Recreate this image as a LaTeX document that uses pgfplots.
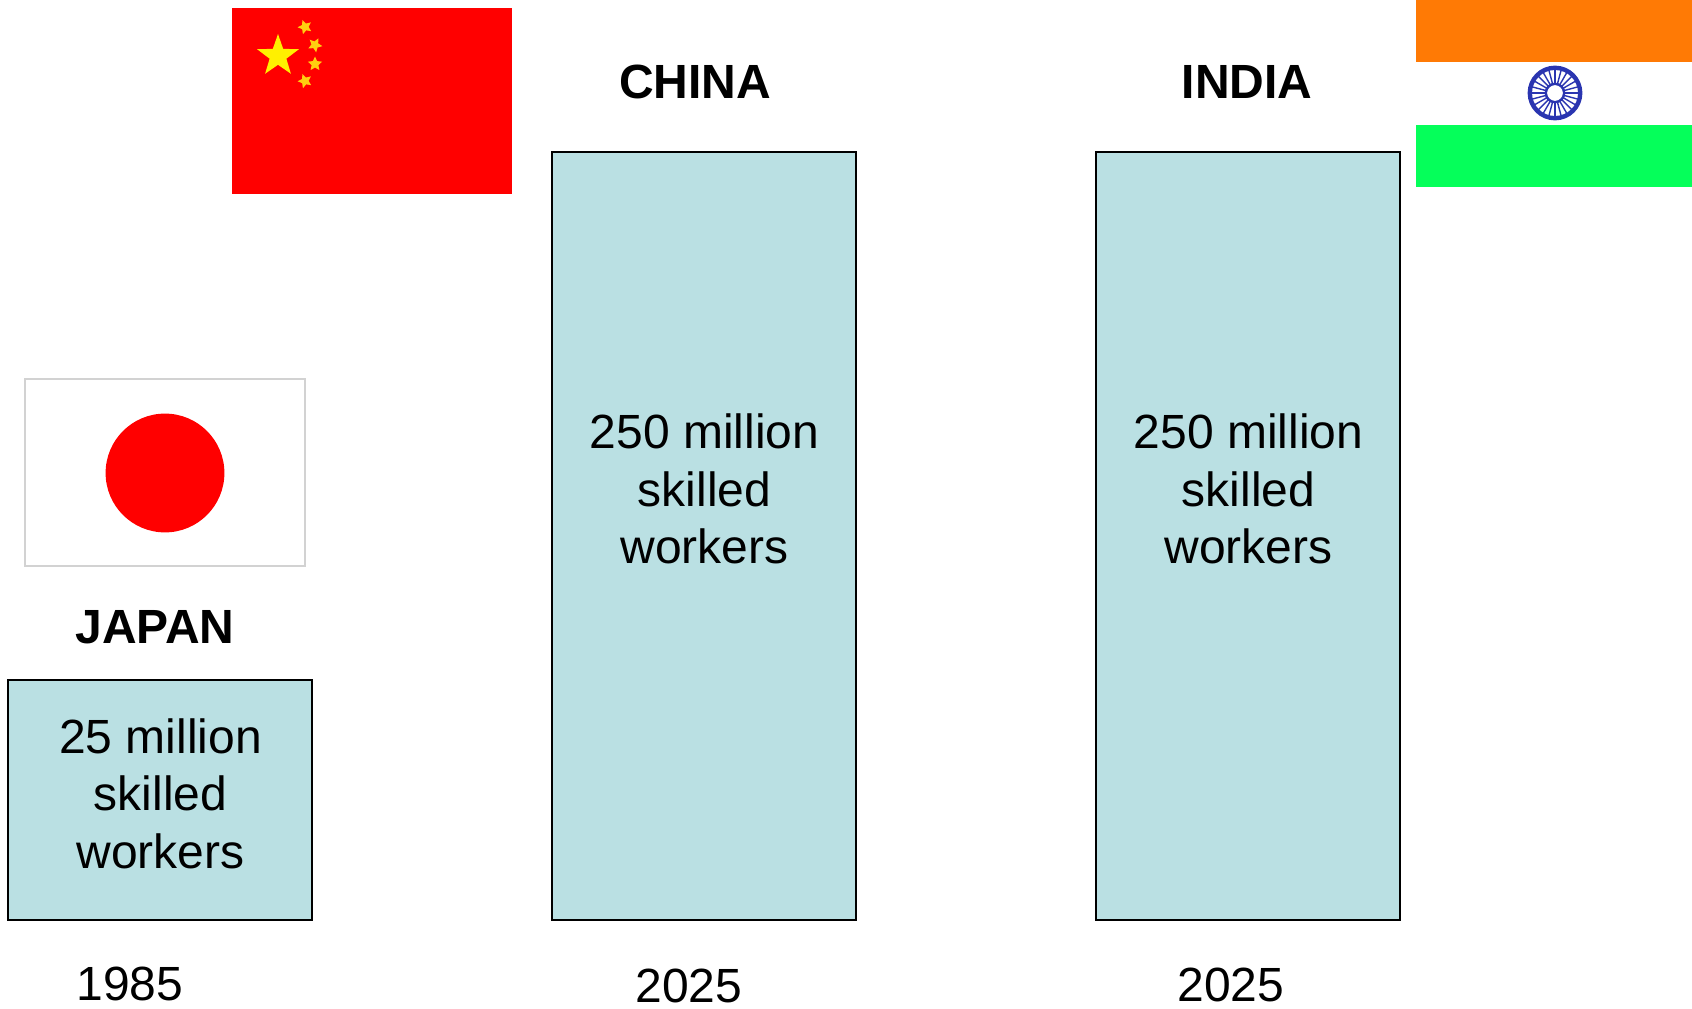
\documentclass[border=0pt]{standalone}
\usepackage{fontspec}
\setmainfont{Liberation Sans}
\usepackage{pgfplots}
\pgfplotsset{compat=1.18}
\usetikzlibrary{shapes.geometric}
\definecolor{barfill}{HTML}{BAE0E3}
\definecolor{indorange}{HTML}{FF7A05}
\definecolor{indgreen}{HTML}{05FF5A}
\definecolor{chakra}{HTML}{2A35B0}
\definecolor{starmain}{HTML}{FFF000}
\definecolor{starsmall}{HTML}{FFCF10}
\begin{document}
\begin{tikzpicture}
\path[use as bounding box] (0,0) rectangle (846pt,504pt);
\begin{axis}[
    at={(0,0)}, anchor=south west, scale only axis,
    width=846pt, height=504pt,
    xmin=0, xmax=1692, ymin=-88, ymax=920,
    hide axis, clip=false,
    ybar, bar width=152pt]
  % bar heights as drawn, baseline at 0
  \addplot[draw=black, line width=1.35pt, fill=barfill] coordinates { (160,240) (704,768) (1248,768) };
\end{axis}
% everything below is in picture pixels, y going down
\begin{scope}[shift={(0,504pt)}, x=0.5pt, y=-0.5pt]
  % China
  \fill[red] (232,8) rectangle (512,194);
  \node[star, star points=5, star point ratio=2.5, fill=starmain, inner sep=0, minimum size=22pt] at (278,56) {};
  \foreach \px/\py/\rot in {305/27/20, 315/45/45, 315/64/0, 305/81/20}
    \node[star, star points=5, star point ratio=2.1, fill=starsmall, inner sep=0, minimum size=7.5pt, rotate=\rot] at (\px,\py) {};
  % India
  \fill[indorange] (1416,0) rectangle (1692,62);
  \fill[indgreen] (1416,125) rectangle (1692,187);
  \draw[chakra, line width=2.2pt] (1555,93) circle[radius=12.6pt];
  \foreach \a in {0,15,...,345}
    \draw[chakra, line width=0.7pt] (1555,93) ++(\a:4pt) -- ++(\a:8pt);
  \draw[chakra, line width=1.2pt] (1555,93) circle[radius=4.6pt];
  % Japan
  \draw[gray!35, line width=0.7pt, fill=white] (25,379) rectangle (305,566);
  \fill[red] (165,473) circle[radius=29.7pt];
  % labels
  \tikzset{big/.style={font=\fontsize{24}{28.7}\selectfont, align=center, inner sep=0, text=black},
    head/.style={big, font=\fontsize{24}{28.7}\selectfont\bfseries}}
  \node[head] at (155,627) {JAPAN};
  \node[head] at (695,82) {CHINA};
  \node[head] at (1247,82) {INDIA};
  \node[big] at (160.5,793.5) {25 million\\skilled\\workers};
  \node[big] at (704.5,489) {250 million\\skilled\\workers};
  \node[big] at (1248.5,489) {250 million\\skilled\\workers};
  \node[big] at (130,984) {1985};
  \node[big] at (689,986) {2025};
  \node[big] at (1231,985) {2025};
\end{scope}
\end{tikzpicture}
\end{document}
